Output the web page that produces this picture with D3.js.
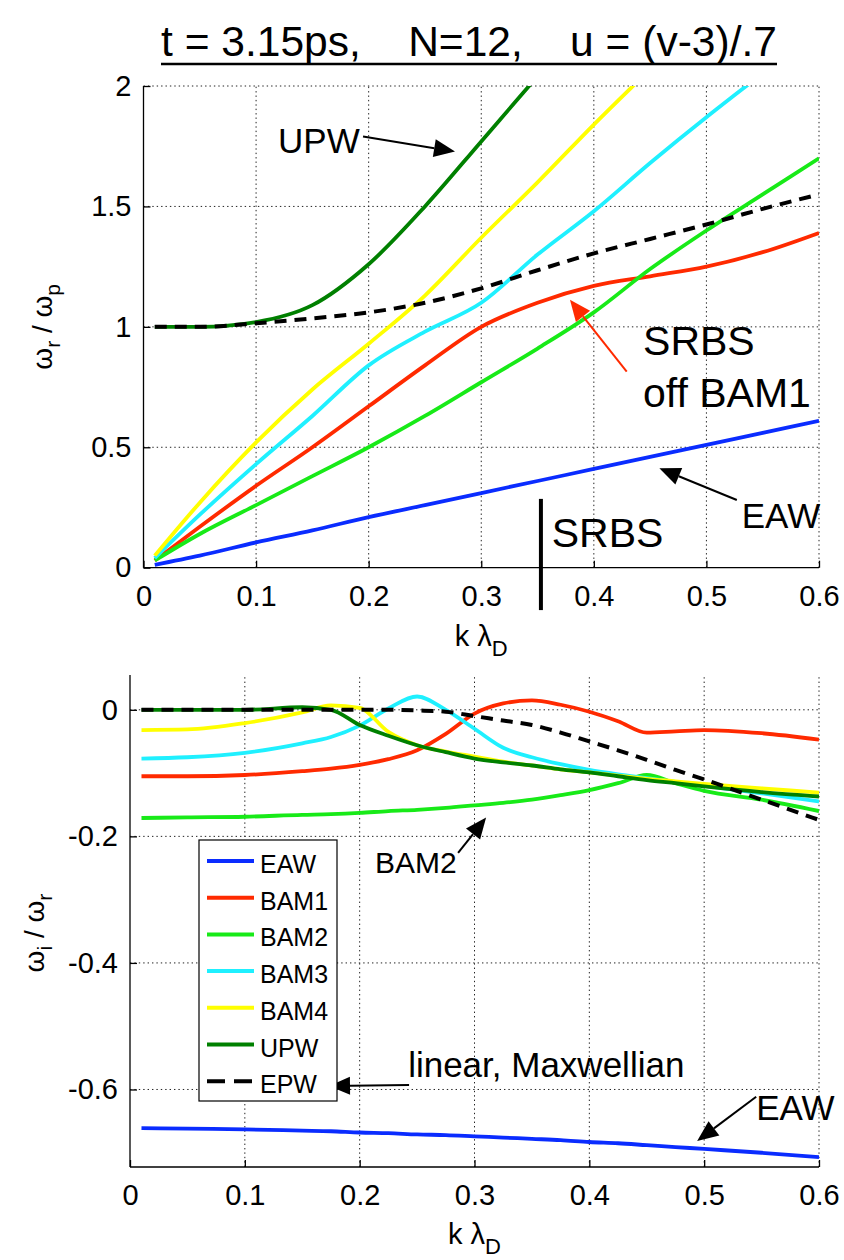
<!DOCTYPE html>
<html><head><meta charset="utf-8">
<script src="https://cdn.jsdelivr.net/npm/d3@7"></script>
<style>
body{margin:0;background:#fff}
svg{display:block}
text{font-family:"Liberation Sans",Arial,Helvetica,sans-serif;fill:#000}
</style>
</head><body>
<svg id="c" width="844" height="1260"></svg>
<script>
// ---------------- data ----------------
const seriesNames  = ["EAW","BAM1","BAM2","BAM3","BAM4","UPW","EPW"];
const seriesColors = ["#0a2cff","#ff2a00","#18ea18","#1ff0ff","#ffff00","#008000","#000000"];

// top panel: omega_r / omega_p vs k lambda_D
const kTop   = [0.01,0.05,0.1,0.15,0.2,0.25,0.3,0.35,0.4,0.45,0.5,0.55,0.6];
const topEAW  = [0.012,0.05,0.105,0.155,0.21,0.26,0.31,0.36,0.41,0.46,0.51,0.56,0.61];
const topBAM1 = [0.03,0.17,0.34,0.50,0.67,0.84,1.0,1.10,1.17,1.21,1.25,1.31,1.39];
const topBAM2 = [0.03,0.14,0.26,0.38,0.50,0.63,0.77,0.91,1.06,1.24,1.40,1.55,1.70];
const topBAM3 = [0.04,0.22,0.43,0.63,0.84,0.98,1.10,1.30,1.48,1.68,1.87,2.05,2.2];
const topBAM4 = [0.05,0.27,0.52,0.74,0.93,1.13,1.37,1.60,1.84,2.07,2.3,2.5,2.7];
const topUPW  = [1.0,1.0,1.02,1.09,1.26,1.50,1.77,2.04,2.3,2.5,2.7,2.9,3.1];
const topEPW  = [1.0,1.0,1.015,1.035,1.06,1.10,1.16,1.235,1.305,1.365,1.425,1.49,1.55];

// bottom panel: omega_i / omega_r vs k lambda_D
const kBot   = [0.01,0.05,0.1,0.15,0.175,0.2,0.225,0.25,0.275,0.3,0.325,0.35,0.375,0.4,0.425,0.45,0.475,0.5,0.55,0.6];
const botEAW  = [-0.661,-0.662,-0.663,-0.665,-0.666,-0.668,-0.669,-0.671,-0.672,-0.674,-0.676,-0.678,-0.680,-0.683,-0.685,-0.688,-0.691,-0.694,-0.700,-0.707];
const botBAM1 = [-0.105,-0.105,-0.103,-0.097,-0.093,-0.087,-0.078,-0.064,-0.038,-0.006,0.010,0.015,0.008,-0.003,-0.018,-0.036,-0.034,-0.032,-0.037,-0.047];
const botBAM2 = [-0.171,-0.170,-0.169,-0.166,-0.165,-0.163,-0.160,-0.158,-0.155,-0.151,-0.147,-0.142,-0.135,-0.127,-0.116,-0.103,-0.116,-0.128,-0.142,-0.160];
const botBAM3 = [-0.077,-0.075,-0.068,-0.053,-0.043,-0.025,0.002,0.021,0.0,-0.030,-0.060,-0.075,-0.086,-0.095,-0.102,-0.108,-0.114,-0.120,-0.132,-0.145];
const botBAM4 = [-0.032,-0.031,-0.021,-0.004,0.007,0.003,-0.035,-0.056,-0.066,-0.074,-0.082,-0.088,-0.094,-0.099,-0.104,-0.109,-0.113,-0.117,-0.124,-0.131];
const botUPW  = [0.0,0.0,0.0,0.004,0.0,-0.024,-0.041,-0.056,-0.067,-0.077,-0.083,-0.088,-0.094,-0.099,-0.105,-0.111,-0.116,-0.121,-0.130,-0.137];
const botEPW  = [0.0,0.0,0.0,0.0,0.0,0.0,0.0,-0.001,-0.003,-0.010,-0.017,-0.024,-0.036,-0.050,-0.064,-0.079,-0.095,-0.110,-0.142,-0.174];

const xTicks    = [0,0.1,0.2,0.3,0.4,0.5,0.6];
const yTopTicks = [0,0.5,1,1.5,2];
const yBotTicks = [-0.6,-0.4,-0.2,0];
const titleText = "t = 3.15ps,    N=12,    u = (v-3)/.7";
const kSRBS = 0.353;

// ---------------- drawing ----------------
const svg = d3.select("#c");
const FS_TICK = 29;

const xTop = d3.scaleLinear([0,0.6],[143.5,819]);
const yTop = d3.scaleLinear([0,2],[567.7,86]);
const xBot = d3.scaleLinear([0,0.6],[130,819]);
const yBot = d3.scaleLinear([-0.7225,0.055],[1167,675]);

// title
svg.append("text").attr("x",161).attr("y",56)
  .attr("font-size",42).attr("xml:space","preserve").style("white-space","pre")
  .attr("textLength",616).attr("lengthAdjust","spacingAndGlyphs")
  .text(titleText);
svg.append("line").attr("x1",161).attr("x2",777).attr("y1",64).attr("y2",64)
  .attr("stroke","#000").attr("stroke-width",2.5);

function panel(id, x, y, kArr, dataArrs, yTicks){
  const g = svg.append("g");
  const [x0,x1] = x.range(); const [y0,y1] = y.range();
  g.append("clipPath").attr("id",id).append("rect")
    .attr("x",x0).attr("y",y1).attr("width",x1-x0).attr("height",y0-y1);
  g.selectAll(".gx").data(xTicks.filter(d=>d>0)).join("line")
    .attr("x1",d=>x(d)).attr("x2",d=>x(d)).attr("y1",y0).attr("y2",y1)
    .attr("stroke","#222").attr("stroke-width",1).attr("stroke-dasharray","1.4,3");
  g.selectAll(".gy").data(yTicks.filter(d=>Math.abs(y(d)-y0)>1)).join("line")
    .attr("x1",x0).attr("x2",x1).attr("y1",d=>y(d)).attr("y2",d=>y(d))
    .attr("stroke","#222").attr("stroke-width",1).attr("stroke-dasharray","1.4,3");
  const line = d3.line().x((d,i)=>x(kArr[i])).y(d=>y(d)).curve(d3.curveMonotoneX);
  const lg = g.append("g").attr("clip-path",`url(#${id})`);
  dataArrs.forEach((arr,i)=>{
    lg.append("path").attr("d",line(arr)).attr("fill","none")
      .attr("stroke",seriesColors[i]).attr("stroke-width",i===6?4:3.8)
      .attr("stroke-dasharray",i===6?"12,8":null)
      .attr("stroke-linejoin","round");
  });
  const ax = g.append("g").attr("transform",`translate(0,${y0})`)
    .call(d3.axisBottom(x).tickValues(xTicks).tickSize(-7).tickPadding(12).tickFormat(d=>String(d)));
  const ay = g.append("g").attr("transform",`translate(${x0},0)`)
    .call(d3.axisLeft(y).tickValues(yTicks).tickSize(-7).tickPadding(12).tickFormat(d=>String(d)));
  [ax,ay].forEach(a=>{
    a.select(".domain").attr("stroke","#000").attr("stroke-width",1.3);
    a.selectAll(".tick line").attr("stroke","#000").attr("stroke-width",1.3);
    a.selectAll(".tick text").attr("font-size",FS_TICK).attr("font-family","Liberation Sans, Arial, sans-serif").attr("fill","#000");
  });
  ax.select(".domain").attr("d",`M${x0},0H${x1}`);
  ay.select(".domain").attr("d",`M0,${y0}V${y1}`);
  ax.selectAll(".tick text").attr("dy","0.9em");
  return g;
}

panel("clipTop", xTop, yTop, kTop, [topEAW,topBAM1,topBAM2,topBAM3,topBAM4,topUPW,topEPW], yTopTicks);
panel("clipBot", xBot, yBot, kBot, [botEAW,botBAM1,botBAM2,botBAM3,botBAM4,botUPW,botEPW], yBotTicks);

function xLabel(cx, by){
  const t = svg.append("text").attr("x",cx).attr("y",by).attr("text-anchor","middle").attr("font-size",29);
  t.append("tspan").text("k \u03bb");
  t.append("tspan").attr("dy",10).attr("font-size",22).text("D");
}
xLabel(xTop(0.3), 646);
xLabel(xBot(0.3), 1244);

function yLabel(cx, cy, a, b){
  const t = svg.append("text").attr("transform",`translate(${cx},${cy}) rotate(-90)`)
    .attr("text-anchor","middle").attr("font-size",28);
  t.append("tspan").text("\u03c9");
  t.append("tspan").attr("dy",8).attr("font-size",21).text(a);
  t.append("tspan").attr("dy",-8).text(" / \u03c9");
  t.append("tspan").attr("dy",8).attr("font-size",21).text(b);
}
yLabel(52, (yTop.range()[0]+yTop.range()[1])/2, "r", "p");
yLabel(44, (yBot.range()[0]+yBot.range()[1])/2 + 12, "i", "r");

function arrow(x1,y1,x2,y2,color,hl=21,hw=18){
  const ang = Math.atan2(y2-y1,x2-x1);
  const bx = x2 - hl*Math.cos(ang), by = y2 - hl*Math.sin(ang);
  svg.append("line").attr("x1",x1).attr("y1",y1).attr("x2",bx).attr("y2",by)
    .attr("stroke",color).attr("stroke-width",2);
  const px = -Math.sin(ang)*hw/2, py = Math.cos(ang)*hw/2;
  svg.append("path").attr("d",`M${x2},${y2}L${bx+px},${by+py}L${bx-px},${by-py}Z`).attr("fill",color);
}
function label(x,y,txt,fs,color="#000"){
  svg.append("text").attr("x",x).attr("y",y).attr("font-size",fs).attr("fill",color).text(txt);
}

label(xTop(0.1195), yTop(1.722), "UPW", 35);
arrow(xTop(0.195), yTop(1.79), xTop(0.2767), yTop(1.7276), "#000");
label(xTop(0.4437), yTop(0.883), "SRBS", 41, seriesColors[1]);
label(xTop(0.4437), yTop(0.669), "off BAM1", 41, seriesColors[1]);
arrow(xTop(0.4292), yTop(0.814), xTop(0.3788), yTop(1.112), seriesColors[1]);
label(xTop(0.5314), yTop(0.165), "EAW", 35);
arrow(xTop(0.527), yTop(0.281), xTop(0.4582), yTop(0.4128), "#000");
svg.append("line").attr("x1",xTop(kSRBS)).attr("x2",xTop(kSRBS))
  .attr("y1",yTop(0.2857)).attr("y2",yTop(-0.176)).attr("stroke","#000").attr("stroke-width",4);
label(xTop(0.3626), yTop(0.087), "SRBS", 41);

label(xBot(0.2134), yBot(-0.2577), "BAM2", 30);
arrow(xBot(0.2857), yBot(-0.2261), xBot(0.3101), yBot(-0.1703), "#000");
label(xBot(0.2422), yBot(-0.5798), "linear, Maxwellian", 35);
arrow(xBot(0.243), yBot(-0.593), xBot(0.1733), yBot(-0.5945), "#000");
label(xBot(0.5453), yBot(-0.6482), "EAW", 35);
arrow(xBot(0.5453), yBot(-0.6114), xBot(0.4939), yBot(-0.6814), "#000");

const lgd = svg.append("g");
lgd.append("rect").attr("x",199).attr("y",840).attr("width",138).attr("height",261)
  .attr("fill","#fff").attr("stroke","#000").attr("stroke-width",1.2);
seriesNames.forEach((n,i)=>{
  const ly = 861 + i*36.7;
  lgd.append("line").attr("x1",207).attr("x2",254).attr("y1",ly).attr("y2",ly)
    .attr("stroke",seriesColors[i]).attr("stroke-width",4)
    .attr("stroke-dasharray",i===6?"18,9":null);
  lgd.append("text").attr("x",260).attr("y",ly+12).attr("font-size",25).text(n);
});
</script>
</body></html>
